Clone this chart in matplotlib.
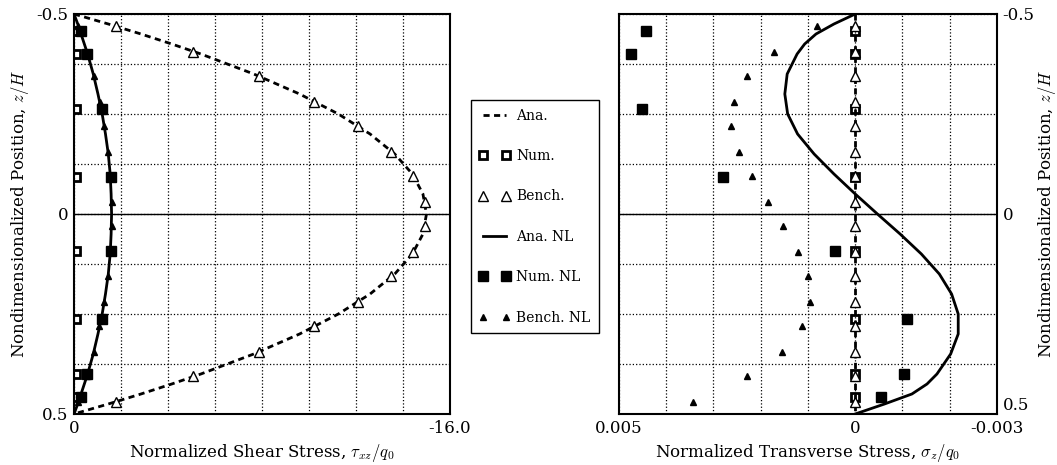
import numpy as np
import matplotlib
matplotlib.use("Agg")
import matplotlib.pyplot as plt

plt.rcParams['font.family'] = ['DejaVu Serif']
plt.rcParams['mathtext.fontset'] = 'cm'

# through-thickness positions
z_line = [-0.5, -0.475, -0.45, -0.425, -0.4, -0.35, -0.3, -0.25, -0.2, -0.15, -0.1, -0.05, 0.0,
          0.05, 0.1, 0.15, 0.2, 0.25, 0.3, 0.35, 0.4, 0.425, 0.45, 0.475, 0.5]
z_num = [-0.4575, -0.4, -0.2625, -0.0925, 0.0925, 0.2625, 0.4, 0.4575]
z_bench = [-0.469, -0.406, -0.344, -0.281, -0.219, -0.156, -0.094, -0.031,
           0.031, 0.094, 0.156, 0.219, 0.281, 0.344, 0.406, 0.469]

# shear stress tau_xz/q0
tau_ana = [0.0, -1.46, -2.85, -4.16, -5.4, -7.65, -9.6, -11.25, -12.6, -13.65, -14.4, -14.85, -15.0,
           -14.85, -14.4, -13.65, -12.6, -11.25, -9.6, -7.65, -5.4, -4.16, -2.85, -1.46, 0.0]
tau_num = [-0.07, -0.07, -0.07, -0.07, -0.07, -0.07, -0.07, -0.07]
tau_bench = [-1.79, -5.05, -7.88, -10.2, -12.1, -13.5, -14.42, -14.92,
             -14.92, -14.42, -13.5, -12.1, -10.2, -7.88, -5.05, -1.79]
tau_ana_nl = [0.0, -0.16, -0.30, -0.44, -0.58, -0.82, -1.02, -1.2, -1.34, -1.46, -1.54, -1.58, -1.6,
              -1.58, -1.54, -1.46, -1.34, -1.2, -1.02, -0.82, -0.58, -0.44, -0.30, -0.16, 0.0]
tau_num_nl = [-0.28, -0.55, -1.18, -1.57, -1.57, -1.18, -0.55, -0.28]
tau_bench_nl = [-0.19, -0.54, -0.85, -1.09, -1.29, -1.43, -1.54, -1.60,
                -1.60, -1.54, -1.43, -1.29, -1.08, -0.85, -0.55, -0.18]

# transverse stress sigma_z/q0
sig_ana = [0.0] * len(z_line)
sig_num = [0.0, 0.0, 0.0, 0.0, 0.0, 0.0, 0.0, 0.0]
sig_bench = [0.0] * len(z_bench)
sig_ana_nl = [0.0, 0.00045, 0.00083, 0.00107, 0.00123, 0.00144, 0.00149, 0.00143, 0.00122, 0.00087,
              0.00045, 0.0, -0.00047, -0.00095, -0.0014, -0.00178, -0.00204, -0.00218, -0.00218,
              -0.00202, -0.00173, -0.00152, -0.00120, -0.00062, 0.0]
sig_num_nl = [0.00443, 0.00474, 0.00451, 0.00279, 0.00043, -0.00109, -0.00103, -0.00055]
sig_bench_nl = [0.00081, 0.00172, 0.0023, 0.00257, 0.00262, 0.00247, 0.00219, 0.00185,
                0.00153, 0.00121, 0.001, 0.00096, 0.00113, 0.00155, 0.0023, 0.00343]

labels = ['Ana.', 'Num.', 'Bench.', 'Ana. NL', 'Num. NL', 'Bench. NL']

fig = plt.figure(figsize=(10.57, 4.65), dpi=100)
ax1 = fig.add_axes([0.0700, 0.1097, 0.3557, 0.8602])
ax2 = fig.add_axes([0.5856, 0.1097, 0.3576, 0.8602])

dash = (0, (2.2, 1.6))


def draw(ax, ana, num, bench, ana_nl, num_nl, bench_nl):
    h = []
    h += ax.plot(ana, z_line, color='k', lw=2, ls=dash, zorder=3)
    h += ax.plot(num, z_num, ls='none', marker='s', ms=6, mfc='none', mec='k', mew=2, zorder=4)
    h += ax.plot(bench, z_bench, ls='none', marker='^', ms=7, mfc='white', mec='k', mew=1, zorder=5)
    h += ax.plot(ana_nl, z_line, color='k', lw=2, zorder=3)
    h += ax.plot(num_nl, z_num, ls='none', marker='s', ms=7, color='k', zorder=4)
    h += ax.plot(bench_nl, z_bench, ls='none', marker='^', ms=5, color='k', zorder=5)
    ax.axhline(0, color='k', lw=1, zorder=2)
    ax.set_ylim(0.5, -0.5)
    ax.set_yticks(np.linspace(-0.5, 0.5, 9))
    ax.set_yticklabels(['-0.5', '', '', '', '0', '', '', '', '0.5'])
    ax.grid(True, color='k', ls=':', lw=0.9)
    ax.tick_params(length=0, labelsize=12, pad=4)
    for s in ax.spines.values():
        s.set_linewidth(1.5)
    return h


handles = draw(ax1, tau_ana, tau_num, tau_bench, tau_ana_nl, tau_num_nl, tau_bench_nl)
ax1.set_xlim(0, -16)
ax1.set_xticks(np.linspace(0, -16, 9))
ax1.set_xticklabels(['0', '', '', '', '', '', '', '', '-16.0'])
ax1.set_xlabel(r'Normalized Shear Stress, $\tau_{xz}/q_0$', fontsize=12)
ax1.set_ylabel('Nondimensionalized Position, $z/H$', fontsize=12)

draw(ax2, sig_ana, sig_num, sig_bench, sig_ana_nl, sig_num_nl, sig_bench_nl)
ax2.set_xlim(0.005, -0.003)
ax2.set_xticks(np.linspace(0.005, -0.003, 9))
ax2.set_xticklabels(['0.005', '', '', '', '', '0', '', '', '-0.003'])
ax2.set_xlabel(r'Normalized Transverse Stress, $\sigma_z/q_0$', fontsize=12)
ax2.yaxis.tick_right()
ax2.yaxis.set_label_position('right')
ax2.set_ylabel('Nondimensionalized Position, $z/H$', fontsize=12, labelpad=1)
# lift the bottom right label a little so it clears -0.003
ax2.get_yticklabels()[-1].set_verticalalignment('bottom')

leg = fig.legend(handles, labels, loc='center', bbox_to_anchor=(0.506, 0.534), numpoints=2,
                 fontsize=10, labelspacing=1.9, handlelength=2.2, handletextpad=0.45,
                 borderpad=0.6, fancybox=False, edgecolor='k', framealpha=1)
leg.get_frame().set_linewidth(1)

fig.savefig('out.png', dpi=100)
